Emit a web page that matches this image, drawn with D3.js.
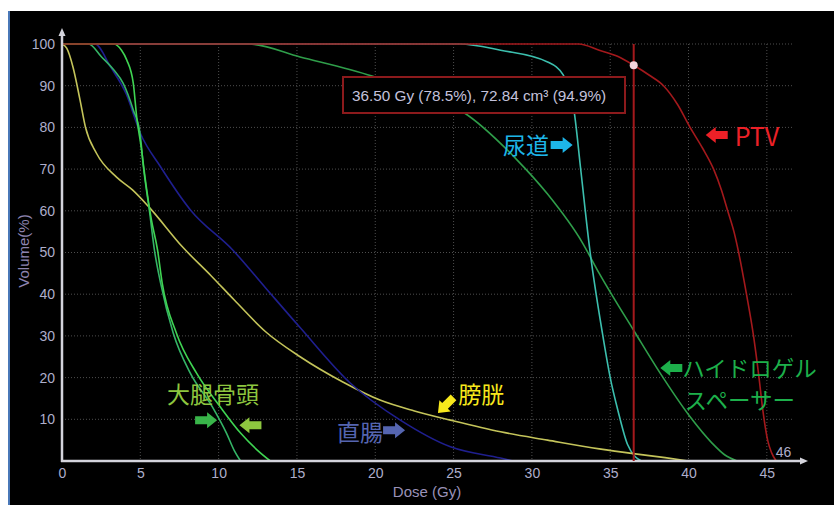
<!DOCTYPE html>
<html><head><meta charset="utf-8">
<script src="https://cdn.jsdelivr.net/npm/d3@7"></script>
<style>html,body{margin:0;padding:0;background:#fff;}svg{display:block;}</style>
</head><body>
<script>
// ---- data ----
const xTicks = [0,5,10,15,20,25,30,35,40,45];
const yTicks = [10,20,30,40,50,60,70,80,90,100];

const ptvDose = [0,33,34.3,35.5,36.5,37.5,38.4,39.3,40.1,40.9,41.6,42.1,42.5,42.9,43.2,43.7,44.15,44.5,44.75,45.05,45.3,45.6];
const ptvVol  = [100,100,98.5,97,94.9,92.5,90,85.5,80,75,70,65,60,55,50,40,30,20,12,5,2,0];

const urethraDose = [0,25.4,28,31,32,32.4,32.7,33.1,33.7,34.5,35,35.5,36.1,36.6,37];
const urethraVol  = [100,100,98.5,95.7,92.6,89,83.7,70.5,50.6,30.7,20,12,4,1,0];

const spacerDose = [0,11.9,15.2,19.8,22.5,25.6,29,31,33.2,34.3,36.6,38.2,40.1,41.5,42.3,43.1];
const spacerVol  = [100,100,96.9,92.3,88.5,83.7,72.4,64,52.5,45,30.7,21,10.6,4.3,1.5,0];

const bladderDose = [0,0.3,0.7,1.15,1.5,2.2,3.5,4.5,5.6,7.7,9.5,11,13,15.2,17.9,20.3,22.5,24.8,28,31,34.3,36.6,38.5,40];
const bladderVol  = [100,99,94.5,86.6,80,73.8,68,65,60.7,51.3,44.5,38.6,31,25,19,14.6,12,9.8,7,5,2.9,1.7,0.8,0];

const rectumDose = [0,2.1,3.1,4.1,5,6.3,8.2,10.9,13,15.2,18.4,21.6,24.8,28,28.8];
const rectumVol  = [100,100,94.5,88,78.6,70.5,60.2,50.6,41.5,32,18.7,9.8,3.4,0.7,0];

const femurADose = [0,1.7,2.5,3.3,3.9,4.55,4.98,5.2,5.6,5.9,6.3,7.1,8.2,9.6,10.5,11,11.4];
const femurAVol  = [100,100,97,93.8,90.6,84.2,78.6,70.5,59.5,50.6,42.6,30.7,21,13,6.7,2.5,0];

const femurBDose = [0,3.3,3.8,4.13,4.55,4.77,5.08,5.3,5.7,6.1,6.4,7.3,8.6,10.1,11.4,12.5,13.3];
const femurBVol  = [100,100,98.5,96.2,90.6,82.5,74.6,68,58,50.6,42.6,30.7,21,13,6.7,2.5,0];

const cursorDose = 36.5, cursorVol = 94.9;
const maxDose = 46;
const tooltipText = "36.50 Gy (78.5%), 72.84 cm³ (94.9%)";

const series = [
  {name:"spacer", dose:spacerDose, vol:spacerVol, color:"#2f9e4a"},
  {name:"urethra", dose:urethraDose, vol:urethraVol, color:"#3cbfae"},
  {name:"bladder", dose:bladderDose, vol:bladderVol, color:"#c4c45a"},
  {name:"rectum", dose:rectumDose, vol:rectumVol, color:"#1f1f8f"},
  {name:"femurA", dose:femurADose, vol:femurAVol, color:"#34b466"},
  {name:"femurB", dose:femurBDose, vol:femurBVol, color:"#3fd452"},
  {name:"ptv", dose:ptvDose, vol:ptvVol, color:"#a3191c"}
];

// annotations in data units
const labels = [
  {t:"尿道", d:28.15, v:76.0, c:"#1db5e8", fs:23},
  {t:"PTV", d:42.95, v:78.2, c:"#ec2027", fs:25},
  {t:"ハイドロゲル", d:39.6, v:22.6, c:"#1db04b", fs:22.5},
  {t:"スペーサー", d:39.75, v:14.9, c:"#1db04b", fs:22.5},
  {t:"大腿骨頭", d:6.7, v:16.3, c:"#8dc63f", fs:23},
  {t:"膀胱", d:25.3, v:16.3, c:"#f7e81c", fs:23},
  {t:"直腸", d:17.55, v:7.2, c:"#5565b0", fs:23}
];
const arrows = [
  {d:31.9, v:75.8, rot:0, c:"#1db5e8"},
  {d:41.8, v:78.2, rot:180, c:"#ec2027"},
  {d:38.9, v:22.3, rot:180, c:"#1db04b"},
  {d:9.2, v:9.8, rot:0, c:"#39b54a"},
  {d:12.03, v:8.6, rot:180, c:"#8dc63f"},
  {d:24.5, v:13.4, rot:135, c:"#f7e81c"},
  {d:21.2, v:7.4, rot:0, c:"#5565b0"}
];

// ---- drawing ----
const W = 834, H = 505;
const svg = d3.select("body").append("svg").attr("width", W).attr("height", H);

svg.append("rect").attr("x",8).attr("y",11).attr("width",W-8).attr("height",H-11).attr("fill","#000");
svg.append("rect").attr("x",8).attr("y",11).attr("width",2).attr("height",H-11).attr("fill","#4a78b8");

const x = d3.scaleLinear().domain([0,47.5]).range([62,806]);
const y = d3.scaleLinear().domain([0,100]).range([461,44]);

// grid
const grid = svg.append("g").attr("stroke","#4e4e4e").attr("stroke-width",1).attr("stroke-dasharray","1,2");
xTicks.filter(t=>t>0).forEach(t=>{
  grid.append("line").attr("x1",x(t)).attr("x2",x(t)).attr("y1",y(100)).attr("y2",y(0));
});
yTicks.forEach(t=>{
  grid.append("line").attr("x1",x(0)).attr("x2",793).attr("y1",y(t)).attr("y2",y(t));
});

// tick labels via axes
const yAxis = svg.append("g").attr("transform",`translate(${x(0)-6},0)`)
  .call(d3.axisLeft(y).tickValues(yTicks).tickSize(0).tickPadding(1));
const xAxis = svg.append("g").attr("transform",`translate(0,${y(0)+3})`)
  .call(d3.axisBottom(x).tickValues(xTicks).tickSize(0).tickPadding(4));
[yAxis,xAxis].forEach(a=>{
  a.select(".domain").remove();
  a.selectAll("text").attr("fill","#aeaecb").attr("font-family","'Liberation Sans', Arial, sans-serif").attr("font-size",14);
});

// lines
const line = d3.line().curve(d3.curveMonotoneX);
series.forEach(s=>{
  const pts = s.dose.map((d,i)=>[x(d), y(s.vol[i])]);
  svg.append("path").attr("d", line(pts)).attr("fill","none").attr("stroke",s.color).attr("stroke-width",1.6);
});

// axes lines with arrows
const axisCol = "#d4d4dc";
svg.append("line").attr("x1",x(0)).attr("x2",x(0)).attr("y1",y(0)+1).attr("y2",32).attr("stroke",axisCol).attr("stroke-width",2.5);
svg.append("path").attr("d",`M${x(0)-3.5},36 L${x(0)},28 L${x(0)+3.5},36 Z`).attr("fill",axisCol);
svg.append("line").attr("x1",x(0)-1).attr("x2",x(47.5)-3).attr("y1",y(0)).attr("y2",y(0)).attr("stroke",axisCol).attr("stroke-width",2.5);
svg.append("path").attr("d",`M${x(47.5)-6},${y(0)-3.5} L${x(47.5)+2},${y(0)} L${x(47.5)-6},${y(0)+3.5} Z`).attr("fill",axisCol);

svg.append("text").attr("x",x(maxDose)+1).attr("y",y(1.0)).attr("text-anchor","middle")
  .attr("fill","#aeaecb").attr("font-family","'Liberation Sans', Arial, sans-serif").attr("font-size",14).text(maxDose);

// axis titles
svg.append("text").attr("x",427).attr("y",497).attr("text-anchor","middle")
  .attr("fill","#9a92b8").attr("font-family","'Liberation Sans', Arial, sans-serif").attr("font-size",15).text("Dose (Gy)");
svg.append("text").attr("transform","translate(29,251) rotate(-90)").attr("text-anchor","middle")
  .attr("fill","#8e84b0").attr("font-family","'Liberation Sans', Arial, sans-serif").attr("font-size",15).text("Volume(%)");

// cursor
svg.append("line").attr("x1",x(cursorDose)).attr("x2",x(cursorDose)).attr("y1",y(100)).attr("y2",y(0))
  .attr("stroke","#a3191c").attr("stroke-width",2);
svg.append("circle").attr("cx",x(cursorDose)).attr("cy",y(cursorVol)).attr("r",4).attr("fill","#f2d4dc");

// tooltip
svg.append("rect").attr("x",343).attr("y",77).attr("width",282).attr("height",36)
  .attr("fill","#000").attr("stroke","#8c1a1c").attr("stroke-width",2);
svg.append("text").attr("x",352).attr("y",100.5).attr("fill","#c4c2dc")
  .attr("font-family","'Liberation Sans', Arial, sans-serif").attr("font-size",15.3).text(tooltipText);

// labels
labels.forEach(l=>{
  svg.append("text").attr("x",x(l.d)).attr("y",y(l.v)).attr("dominant-baseline","central")
    .attr("fill",l.c).attr("font-family","'Noto Sans CJK JP', sans-serif").attr("font-size", l.fs).text(l.t);
});
// block arrows
arrows.forEach(a=>{
  svg.append("path").attr("d","M-11,-4 L1,-4 L1,-8 L11,0 L1,8 L1,4 L-11,4 Z")
    .attr("transform",`translate(${x(a.d)},${y(a.v)}) rotate(${a.rot})`).attr("fill",a.c);
});
</script>
</body></html>
